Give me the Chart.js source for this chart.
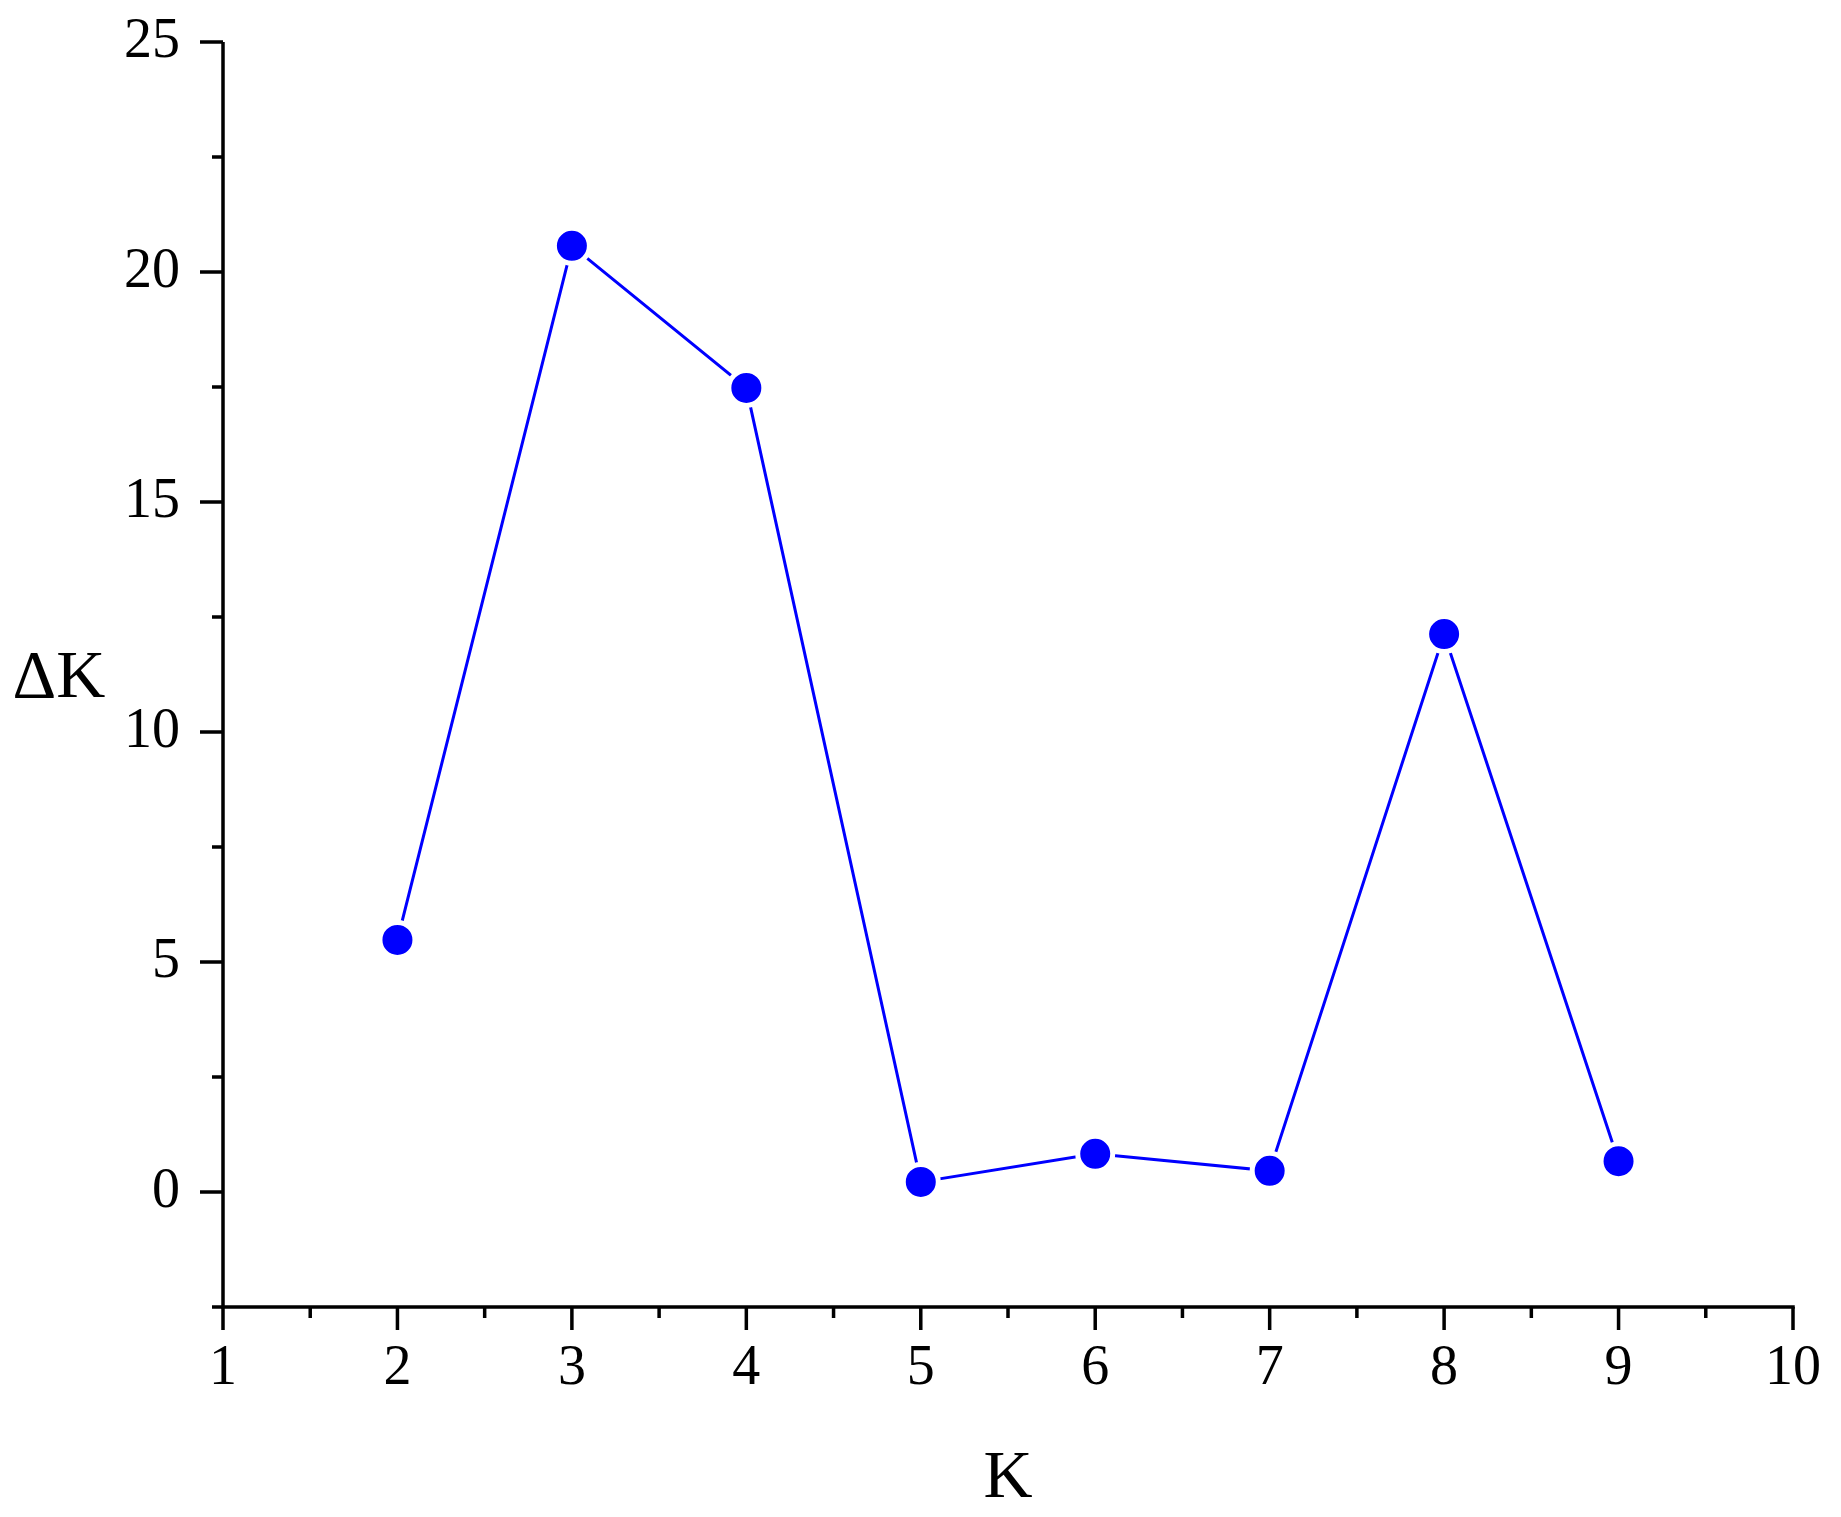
<!DOCTYPE html>
<html>
<head>
<meta charset="utf-8">
<title>Delta K</title>
<script src="https://cdn.jsdelivr.net/npm/chart.js@4.4.1/dist/chart.umd.min.js"></script>
<style>
  html, body { margin: 0; padding: 0; background: #fff; }
  canvas { display: block; }
</style>
</head>
<body>
<canvas id="myChart" width="1841" height="1517"></canvas>
<script>
// data
const kValues = [2, 3, 4, 5, 6, 7, 8, 9];
const deltaK = [5.48, 20.57, 17.48, 0.22, 0.83, 0.46, 12.13, 0.67];

// tick labels
const xTicks = [1, 2, 3, 4, 5, 6, 7, 8, 9, 10];
const yTicks = [0, 5, 10, 15, 20, 25];
const xMinor = [1.5, 2.5, 3.5, 4.5, 5.5, 6.5, 7.5, 8.5, 9.5];
const yMinor = [-2.5, 2.5, 7.5, 12.5, 17.5, 22.5];

const serif = "'Liberation Serif', 'Times New Roman', serif";

// axes, tick marks and titles drawn by hand (origin style)
const axesPlugin = {
  id: 'originAxes',
  afterDraw(chart) {
    const c = chart.ctx;
    const xs = chart.scales.x;
    const ys = chart.scales.y;
    const left = xs.getPixelForValue(1);
    const right = xs.getPixelForValue(10);
    const top = ys.getPixelForValue(25);
    const bottom = ys.getPixelForValue(-2.5);

    c.save();
    c.strokeStyle = '#000';
    c.lineWidth = 3.5;
    c.lineCap = 'butt';
    c.beginPath();
    c.moveTo(left, top);
    c.lineTo(left, bottom);
    c.moveTo(left - 1.75, bottom);
    c.lineTo(right + 1.75, bottom);
    c.stroke();

    c.beginPath();
    xTicks.forEach(function(v) {
      const px = xs.getPixelForValue(v);
      c.moveTo(px, bottom);
      c.lineTo(px, bottom + 23);
    });
    xMinor.forEach(function(v) {
      const px = xs.getPixelForValue(v);
      c.moveTo(px, bottom);
      c.lineTo(px, bottom + 11);
    });
    yTicks.forEach(function(v) {
      const py = ys.getPixelForValue(v);
      c.moveTo(left, py);
      c.lineTo(left - 23, py);
    });
    yMinor.forEach(function(v) {
      const py = ys.getPixelForValue(v);
      c.moveTo(left, py);
      c.lineTo(left - 11, py);
    });
    c.stroke();

    c.fillStyle = '#000';
    c.font = '68px ' + serif;
    c.textAlign = 'center';
    c.textBaseline = 'alphabetic';
    c.fillText('\u0394K', 59, 697);
    c.fillText('K', (left + right) / 2, 1497);
    c.restore();
  }
};

const ctx = document.getElementById('myChart').getContext('2d');

const chart = new Chart(ctx, {
  type: 'scatter',
  data: {
    datasets: [{
      label: 'ΔK',
      data: kValues.map(function(k, i) { return { x: k, y: deltaK[i] }; }),
      showLine: true,
      borderColor: '#0000ff',
      borderWidth: 3,
      backgroundColor: '#0000ff',
      pointBackgroundColor: '#0000ff',
      pointBorderColor: '#ffffff',
      pointBorderWidth: 5,
      pointRadius: 17.5,
      tension: 0
    }]
  },
  options: {
    responsive: false,
    devicePixelRatio: 1,
    animation: false,
    layout: { padding: { top: 42, right: 48, left: 0, bottom: 0 } },
    plugins: {
      legend: { display: false },
      tooltip: { enabled: false }
    },
    scales: {
      x: {
        type: 'linear',
        min: 1,
        max: 10,
        grid: { display: false, drawTicks: false },
        border: { display: false },
        afterBuildTicks: function(s) { s.ticks = xTicks.map(function(v) { return { value: v }; }); },
        afterFit: function(s) { s.height = 210; s.paddingLeft = 0; s.paddingRight = 0; },
        ticks: {
          color: '#000',
          padding: 29,
          maxRotation: 0,
          font: { family: serif, size: 56 }
        }
      },
      y: {
        type: 'linear',
        min: -2.5,
        max: 25,
        grid: { display: false, drawTicks: false },
        border: { display: false },
        afterBuildTicks: function(s) { s.ticks = yTicks.map(function(v) { return { value: v }; }); },
        afterFit: function(s) { s.width = 223; s.paddingTop = 0; s.paddingBottom = 0; },
        ticks: {
          color: '#000',
          padding: 43,
          font: { family: serif, size: 56 }
        }
      }
    }
  },
  plugins: [axesPlugin]
});
</script>
</body>
</html>
